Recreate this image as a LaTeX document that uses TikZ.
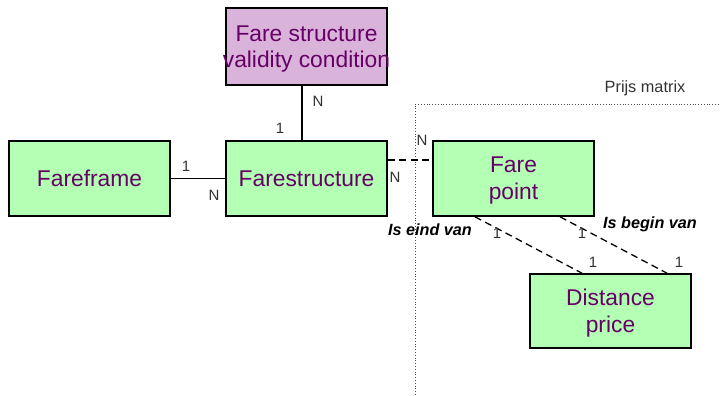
\documentclass[tikz,border=0pt]{standalone}
\usepackage{fontspec}
\setmainfont{Liberation Sans}
\definecolor{entgreen}{HTML}{B3FFB3}
\definecolor{entpurple}{HTML}{D9B3D9}
\definecolor{enttext}{HTML}{660066}

\begin{document}
\begin{tikzpicture}[x=1pt, y=-1pt]
  \tikzset{entity/.style={draw, line width=1.6pt, minimum width=161pt, minimum height=75pt,
      inner xsep=-5pt, align=center, text depth=0pt, text=enttext, font=\fontsize{22.8}{27}\selectfont},
    card/.style={inner sep=0pt, font=\fontsize{15}{15}\selectfont, text=black!80},
    role/.style={inner sep=0pt, font=\fontsize{16.2}{16}\selectfont\bfseries\itshape},
    rel/.style={line width=1.3pt},
    reldash/.style={line width=1.3pt, dash pattern=on 7pt off 4.5pt}}
  \useasboundingbox (0,0) rectangle (720,396);
  \fill[white] (0,0) rectangle (720,396);
  % prijs matrix
  \draw[dotted, line width=0.8pt, black!70] (415,420) -- (415,104) -- (740,104);
  \node[inner sep=0pt, font=\fontsize{16.3}{16}\selectfont, text=black!80] (matrix) at (645,88) {Prijs matrix};
  % entities
  \node[entity, fill=entpurple, minimum height=77pt, font=\fontsize{22.8}{26}\selectfont] (cond) at (306.5,46.5) {Fare structure\\validity condition};
  \node[entity, fill=entgreen] (frame) at (89.5,178.5) {Fareframe};
  \node[entity, fill=entgreen] (struct) at (306.5,178.5) {Farestructure};
  \node[entity, fill=entgreen] (point) at (513.5,178.5) {Fare\\point};
  \node[entity, fill=entgreen, minimum height=74pt] (dist) at (610.5,311) {Distance\\price};
  % relations
  \draw[rel] ([xshift=-4.5pt]struct.north) -- ([xshift=-4.5pt]cond.south);
  \draw[rel] (frame.east) -- (struct.west);
  \draw[reldash] ([yshift=18.5pt]struct.east) -- ([yshift=18.5pt]point.west);
  \draw[reldash] ([xshift=-38.5pt]point.south) -- ([xshift=-28.5pt]dist.north);
  \draw[reldash] ([xshift=46.5pt]point.south) -- ([xshift=56.5pt]dist.north);
  % cardinalities
  \node[card] (c1) at (318,101) {N};
  \node[card] (c2) at (280,128) {1};
  \node[card] (c3) at (186,166) {1};
  \node[card] (c4) at (214,195) {N};
  \node[card] (c5) at (422,140) {N};
  \node[card] (c6) at (395,177) {N};
  \node[card] (c7) at (497,233) {1};
  \node[card] (c8) at (582,233) {1};
  \node[card] (c9) at (593,262) {1};
  \node[card] (c10) at (679,262) {1};
  \node[role] (eind) at (430,230) {Is eind van};
  \node[role] (begin) at (650,224) {Is begin van};
\end{tikzpicture}
\end{document}
